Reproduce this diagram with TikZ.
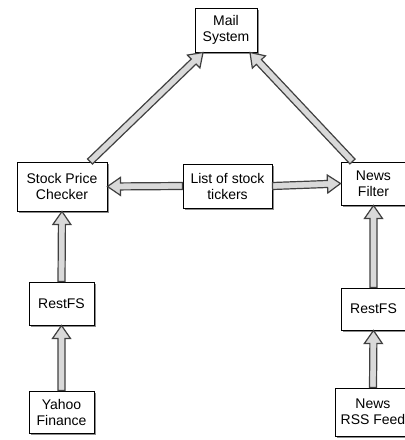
\documentclass[tikz,border=0pt]{standalone}
\usepackage{fontspec}
\setmainfont{Liberation Sans}
\usetikzlibrary{calc,shadows}
\tikzset{
  box/.style={draw=black, line width=1pt, fill=white, align=center, inner sep=2pt,
    font=\fontsize{14}{16}\selectfont,
    drop shadow={shadow xshift=1.5pt, shadow yshift=-2pt, opacity=0.45, fill=black}},
  fatarrow/.style={draw=black!75, line width=1.2pt, fill=black!15, line join=miter}
}
\newcommand\fatarrow[2]{%
  \coordinate (fah) at ($(#2)!13pt!(#1)$);
  \filldraw[fatarrow] ($(#1)!3.5pt!-90:(#2)$) -- ($(fah)!3.5pt!-90:(#2)$) -- ($(fah)!9pt!-90:(#2)$) -- (#2) -- ($(fah)!9pt!90:(#2)$) -- ($(fah)!3.5pt!90:(#2)$) -- ($(#1)!3.5pt!90:(#2)$) -- cycle;}
\begin{document}
\begin{tikzpicture}[x=1pt,y=-1pt]
\useasboundingbox (0,0) rectangle (405,440);
\node[box, minimum width=62pt, minimum height=44pt] (mail) at (226,30) {Mail\\System};
\node[box, minimum width=90pt, minimum height=49pt] (spc) at (62,186.5) {Stock Price\\Checker};
\node[box, minimum width=89pt, minimum height=44pt] (list) at (227.5,186) {List of stock\\tickers};
\node[box, minimum width=65pt, minimum height=43pt] (nf) at (373.5,183.5) {News\\Filter};
\node[box, minimum width=65pt, minimum height=43pt] (lrest) at (61.5,303.5) {RestFS};
\node[box, minimum width=65pt, minimum height=42pt] (yahoo) at (61.5,412) {Yahoo\\Finance};
\node[box, minimum width=65pt, minimum height=42pt] (rrest) at (373.5,309) {RestFS};
\node[box, minimum width=76pt, minimum height=48pt] (rss) at (373,412) {News\\RSS Feed};
\coordinate (a1s) at ([xshift=28pt]spc.north);
\coordinate (a1e) at ([xshift=-23pt]mail.south);
\coordinate (a2s) at ([xshift=-21pt]nf.north);
\coordinate (a2e) at ([xshift=24pt]mail.south);
\fatarrow{a1s}{a1e}
\fatarrow{a2s}{a2e}
\fatarrow{list.west}{spc.east}
\fatarrow{list.east}{nf.west}
\fatarrow{lrest.north}{spc.south}
\fatarrow{yahoo.north}{lrest.south}
\fatarrow{rss.north}{rrest.south}
\fatarrow{rrest.north}{nf.south}
\end{tikzpicture}
\end{document}
